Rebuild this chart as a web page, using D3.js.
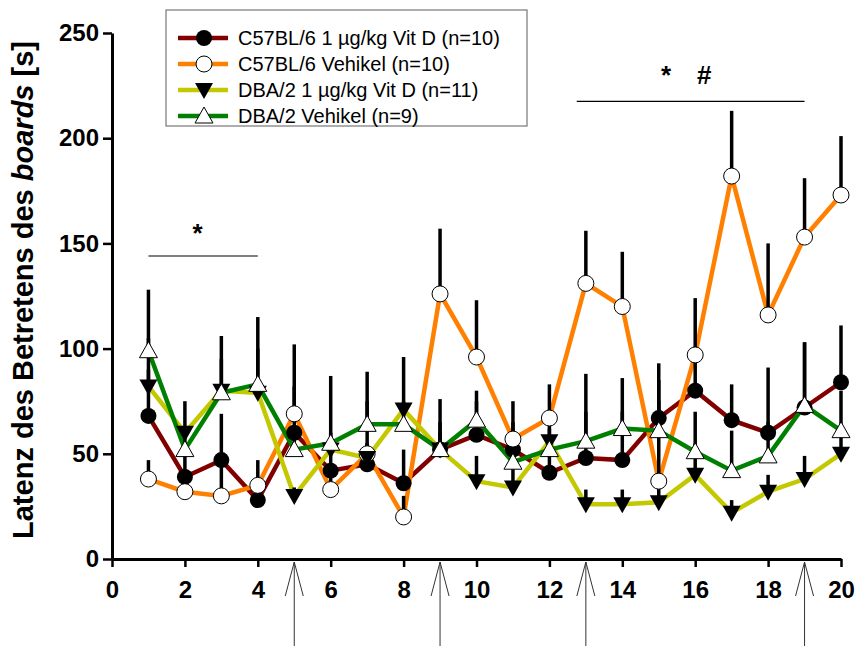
<!DOCTYPE html>
<html><head><meta charset="utf-8">
<script src="https://cdn.jsdelivr.net/npm/d3@7"></script>
<style>
body{margin:0;background:#fff;}
svg{display:block;font-family:"Liberation Sans",Arial,sans-serif;}
</style></head>
<body><svg id="c" width="855" height="646"></svg>
<script>
const days = [1,2,3,4,5,6,7,8,9,10,11,12,13,14,15,16,17,18,19,20];
const seriesNames = ["C57BL/6 1 µg/kg Vit D (n=10)","C57BL/6 Vehikel (n=10)","DBA/2 1 µg/kg Vit D (n=11)","DBA/2 Vehikel (n=9)"];
const c57VitD = [68,39,47,28,60,42,45,36,52,59,52,41,48,47,67,80,66,60,72,84];
const c57Veh  = [38,32,30,35,69,33,50,20,126,96,57,67,131,120,37,97,182,116,153,173];
const dbaVitD = [82,60,80,79,30,52,48,71,52,37,34,56,26,26,27,40,22,32,38,50];
const dbaVeh  = [99,52,79,83,52,55,64,64,52,66,46,52,56,62,61,51,42,49,73,61];
// upper error bar ends (mean + SEM)
const c57VitDErr = [90,50,69,36,82,55,55,52,76,75,65,52,70,70,85,100,83,91,103,111];
const c57VehErr  = [47,35,48,47,102,42,89,30,157,123,75,83,156,146,93,124,213,150,181,201];
const dbaVitDErr = [105,75,95,100,34,60,55,96,60,49,46,70,33,33,35,55,28,40,49,62];
const dbaVehErr  = [128,62,106,115,60,87,75,75,65,80,55,62,88,86,75,70,61,65,103,80];
const yTicks = [0,50,100,150,200,250];
const xTicks = [0,2,4,6,8,10,12,14,16,18,20];
const arrowDays = [5,9,13,19];
const sigBars = [{from:1,to:4,level:144,labels:["*"],at:[2.35]},
                 {from:12.75,to:19,level:217.5,labels:["*","#"],at:[15.2,16.25]}];
const sigLabelLevel = [154,229];

const colors = ["#800000","#ff8000","#c3c800","#008000"];
const shapes = ["circleFilled","circleOpen","triDown","triUp"];
const means = [c57VitD,c57Veh,dbaVitD,dbaVeh];
const errs = [c57VitDErr,c57VehErr,dbaVitDErr,dbaVehErr];

const svg = d3.select("#c");
const x = d3.scaleLinear().domain([0,20]).range([112,841]);
const y = d3.scaleLinear().domain([0,250]).range([559,33]);

// axes
const yAx = svg.append("g").attr("transform","translate(112,0)")
  .call(d3.axisLeft(y).tickValues(yTicks).tickSize(9).tickSizeOuter(0).tickPadding(4));
const xAx = svg.append("g").attr("transform","translate(0,559)")
  .call(d3.axisBottom(x).tickValues(xTicks).tickSize(8).tickSizeOuter(0).tickPadding(14));
[yAx,xAx].forEach(g=>{
  g.select(".domain").attr("stroke","#000").attr("stroke-width",3);
  g.selectAll(".tick line").attr("stroke","#000").attr("stroke-width",2.5);
  g.selectAll(".tick text").attr("fill","#000").style("font-size","24px").style("font-weight","bold");
});

// y label
svg.append("text").attr("transform","translate(33,290) rotate(-90)")
  .attr("text-anchor","middle").style("font-size","29px").style("font-weight","bold")
  .call(t=>{t.append("tspan").text("Latenz des Betretens des ");
            t.append("tspan").style("font-style","italic").text("boards");
            t.append("tspan").text(" [s]");});

// arrows
arrowDays.forEach(d=>{
  const g = svg.append("g").attr("stroke","#333").attr("stroke-width",1).attr("fill","none");
  const px = x(d), tip = 562;
  g.append("line").attr("x1",px).attr("x2",px).attr("y1",tip).attr("y2",646);
  g.append("polyline").attr("points",`${px-9},${tip+34} ${px},${tip} ${px+9},${tip+34}`);
});

// significance bars
sigBars.forEach((s,i)=>{
  svg.append("line").attr("x1",x(s.from)).attr("x2",x(s.to)).attr("y1",y(s.level)).attr("y2",y(s.level))
    .attr("stroke","#000").attr("stroke-width",1.2);
  s.labels.forEach((lab,j)=>{
    svg.append("text").attr("x",x(s.at[j])).attr("y",y(sigLabelLevel[i])).attr("text-anchor","middle")
      .attr("dominant-baseline","middle").style("font-size","26px").style("font-weight","bold").text(lab);
  });
});

// lines
const line = d3.line().x((d,i)=>x(days[i])).y(d=>y(d));
means.forEach((m,k)=>{
  svg.append("path").attr("d",line(m)).attr("fill","none").attr("stroke",colors[k])
    .attr("stroke-width",4.5).attr("stroke-linejoin","miter");
});
// error bars
means.forEach((m,k)=>{
  svg.append("g").selectAll("line").data(m).join("line")
    .attr("x1",(d,i)=>x(days[i])).attr("x2",(d,i)=>x(days[i]))
    .attr("y1",d=>y(d)).attr("y2",(d,i)=>y(errs[k][i]))
    .attr("stroke","#000").attr("stroke-width",3.5);
});

function drawMarker(g, shape, cx, cy){
  if(shape==="circleFilled") g.append("circle").attr("cx",cx).attr("cy",cy).attr("r",8).attr("fill","#000");
  else if(shape==="circleOpen") g.append("circle").attr("cx",cx).attr("cy",cy).attr("r",8).attr("fill","#fff").attr("stroke","#000").attr("stroke-width",1);
  else if(shape==="triDown") g.append("path").attr("d",`M${cx-9},${cy-7}L${cx+9},${cy-7}L${cx},${cy+9}Z`).attr("fill","#000");
  else g.append("path").attr("d",`M${cx-9},${cy+7}L${cx+9},${cy+7}L${cx},${cy-9}Z`).attr("fill","#fff").attr("stroke","#000").attr("stroke-width",1);
}
means.forEach((m,k)=>{
  const g = svg.append("g");
  m.forEach((v,i)=>drawMarker(g, shapes[k], x(days[i]), y(v)));
});

// legend
const lg = svg.append("g");
lg.append("rect").attr("x",166).attr("y",10).attr("width",361).attr("height",116)
  .attr("fill","#fff").attr("stroke","#777").attr("stroke-width",1.2);
seriesNames.forEach((n,k)=>{
  const cy = 38 + k*26;
  lg.append("line").attr("x1",178).attr("x2",228).attr("y1",cy).attr("y2",cy).attr("stroke",colors[k]).attr("stroke-width",4.5);
  drawMarker(lg, shapes[k], 204, cy);
  lg.append("text").attr("x",238).attr("y",cy).attr("dominant-baseline","central")
    .style("font-size","20px").text(n);
});
</script></body></html>
